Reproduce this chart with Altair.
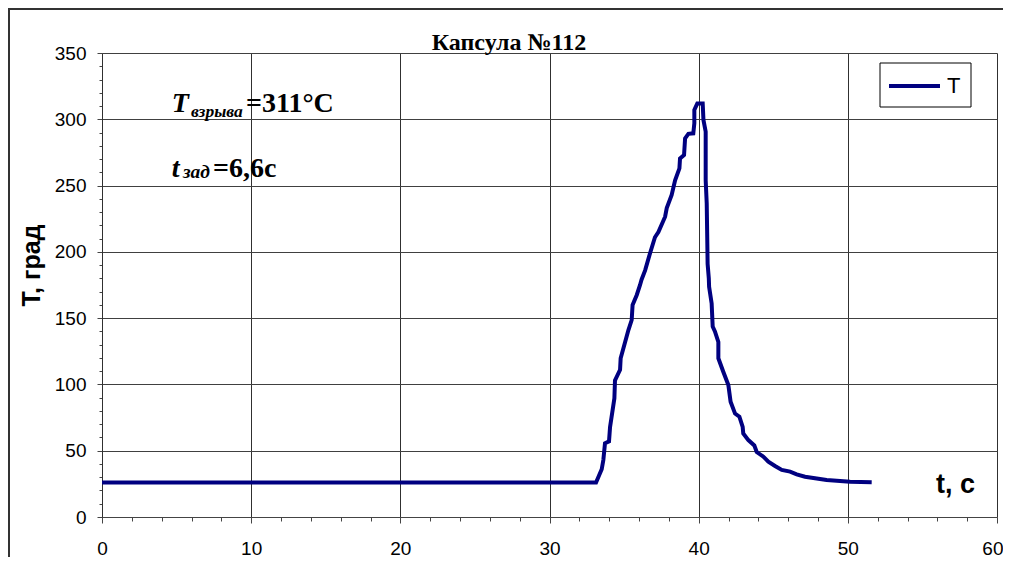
import altair as alt
import pandas as pd

# ---- data ----
t_vals = [0.0, 33.12, 33.50, 33.61, 33.72, 33.99, 34.06, 34.35, 34.39, 34.73, 34.77,
          35.07, 35.29, 35.51, 35.57, 35.85, 36.07, 36.17, 36.41, 36.74, 37.07, 37.30,
          37.75, 37.86, 38.19, 38.42, 38.71, 38.75, 39.02, 39.09, 39.31, 39.64, 39.71,
          39.71, 39.91, 40.27, 40.32, 40.47, 40.47, 40.54, 40.60, 40.68, 40.70, 40.87,
          40.94, 41.09, 41.32, 41.32, 41.65, 41.99, 42.14, 42.44, 42.73, 42.95, 42.99,
          43.33, 43.73, 43.89, 44.34, 44.67, 45.12, 45.57, 46.13, 46.57, 47.13, 47.80,
          48.58, 50.15, 51.60]
T_vals = [26, 26, 36, 43, 55.6, 57, 68, 89.5, 103, 111, 119.7,
          132, 141, 148.6, 160, 167.5, 175, 179, 186, 199, 211, 215,
          226.5, 233, 243, 254, 263, 270.5, 273, 285.6, 289, 289.4, 297,
          307, 312, 312, 299.5, 290.6, 254, 236.6, 191, 180, 173.7, 161,
          143.6, 140, 132, 119.7, 109.6, 99.6, 87, 78, 75.7, 68, 63,
          58, 54, 49, 45.5, 41.7, 38.5, 35.5, 34.2, 32.2, 30.4, 29.2,
          27.9, 26.6, 26.2]
series_name = ["T"]
line_color = "#000080"

x_ticks = list(range(0, 61, 2))
y_ticks = list(range(0, 351, 10))

chart_title = "Капсула №112"
x_title = "t, с"
y_title = "T, град"
ann1 = ["T", "взрыва", "=311°C"]
ann2 = ["t", "зад", "=6,6с"]

df = pd.DataFrame({"t": t_vals, "T": T_vals, "series": series_name * len(t_vals)})
one = pd.DataFrame({"a": [0]})

SANS = "Liberation Sans"
SERIF = "Liberation Serif"

x_axis = alt.Axis(
    values=x_ticks,
    labelExpr="datum.value % 10 === 0 ? datum.label : ''",
    labelOverlap=False, labelFlush=False,
    labelAlign={"condition": {"test": "datum.value === 60", "value": "right"}, "value": "center"},
    labelOffset={"condition": {"test": "datum.value === 60", "value": 6}, "value": 0},
    tickSize={"condition": {"test": "datum.value % 10 === 0", "value": 6}, "value": 4},
    gridOpacity={"condition": {"test": "datum.value % 10 === 0", "value": 1}, "value": 0},
    grid=True, gridColor="#303030", gridWidth=1,
    domainColor="#444444", tickColor="#444444",
    labelFont=SANS, labelFontSize=19, labelColor="black", labelPadding=16,
    title=x_title, titleFont=SANS, titleFontSize=27, titleFontWeight="bold",
    titleColor="black", titleX=853, titleY=-33, titleAlign="center",
    titleBaseline="middle", orient="bottom",
)
y_axis = alt.Axis(
    values=y_ticks,
    labelExpr="datum.value % 50 === 0 ? datum.label : ''",
    labelOverlap=False, labelFlush=False,
    tickSize={"condition": {"test": "datum.value % 50 === 0", "value": 5}, "value": 3},
    gridOpacity={"condition": {"test": "datum.value % 50 === 0", "value": 1}, "value": 0},
    grid=True, gridColor="#404040", gridWidth=1,
    domainColor="#303030", tickColor="#444444",
    labelFont=SANS, labelFontSize=19, labelColor="black", labelPadding=11,
    title=y_title, titleFont=SANS, titleFontSize=25, titleFontWeight="bold",
    titleColor="black", titleX=-71, titleY=212, titleAlign="center",
    titleBaseline="middle", orient="left",
)

line = alt.Chart(df).mark_line(strokeWidth=4).encode(
    x=alt.X("t:Q", scale=alt.Scale(domain=[0, 60], nice=False), axis=x_axis),
    y=alt.Y("T:Q", scale=alt.Scale(domain=[0, 350], nice=False), axis=y_axis),
    color=alt.Color("series:N", scale=alt.Scale(domain=series_name, range=[line_color]),
                    legend=None),
    order=alt.Order("idx:Q"),
).transform_window(idx="row_number()")


def txt(s, x, y, size, style="normal", font=SERIF, weight="bold", align="left",
        baseline="alphabetic"):
    return alt.Chart(one).mark_text(
        text=s, font=font, fontSize=size, fontWeight=weight, fontStyle=style,
        align=align, baseline=baseline, color="black"
    ).encode(x=alt.value(x), y=alt.value(y))


# legend drawn as a boxed key
legend_box = alt.Chart(one).mark_rect(fill="white", stroke="black", strokeWidth=1).encode(
    x=alt.value(778), x2=alt.value(869), y=alt.value(10), y2=alt.value(54))
legend_line = alt.Chart(one).mark_rule(color=line_color, strokeWidth=4).encode(
    x=alt.value(787), x2=alt.value(838), y=alt.value(33))
legend_text = txt(series_name[0], 845, 33, 22, font=SANS, weight="normal",
                  baseline="middle")

layers = [
    line,
    legend_box, legend_line, legend_text,
    txt(chart_title, 407, -3, 24, align="center"),
    txt(ann1[0], 69.7, 58.7, 28, "italic"),
    txt(ann1[1], 89, 63.5, 17.5, "italic"),
    txt(ann1[2], 144, 58.7, 28),
    txt(ann2[0], 69.7, 123.7, 28, "italic"),
    txt(ann2[1], 81, 125, 19.5, "italic"),
    txt(ann2[2], 111, 123.7, 28),
    alt.Chart(one).mark_rule(color="#333333", strokeWidth=2).encode(
        x=alt.value(-93), y=alt.value(-45), y2=alt.value(520)),
    alt.Chart(one).mark_rule(color="#333333", strokeWidth=2).encode(
        x=alt.value(-94), x2=alt.value(901), y=alt.value(-44)),
]

chart = alt.layer(*layers).properties(
    width=895, height=464,
    padding={"left": 94, "top": 45, "right": 6, "bottom": 40},
    autosize=alt.AutoSizeParams(type="none"),
    background="white",
).configure_view(stroke=None)

chart.save("out.html", embed_options={"renderer": "svg", "actions": False})
